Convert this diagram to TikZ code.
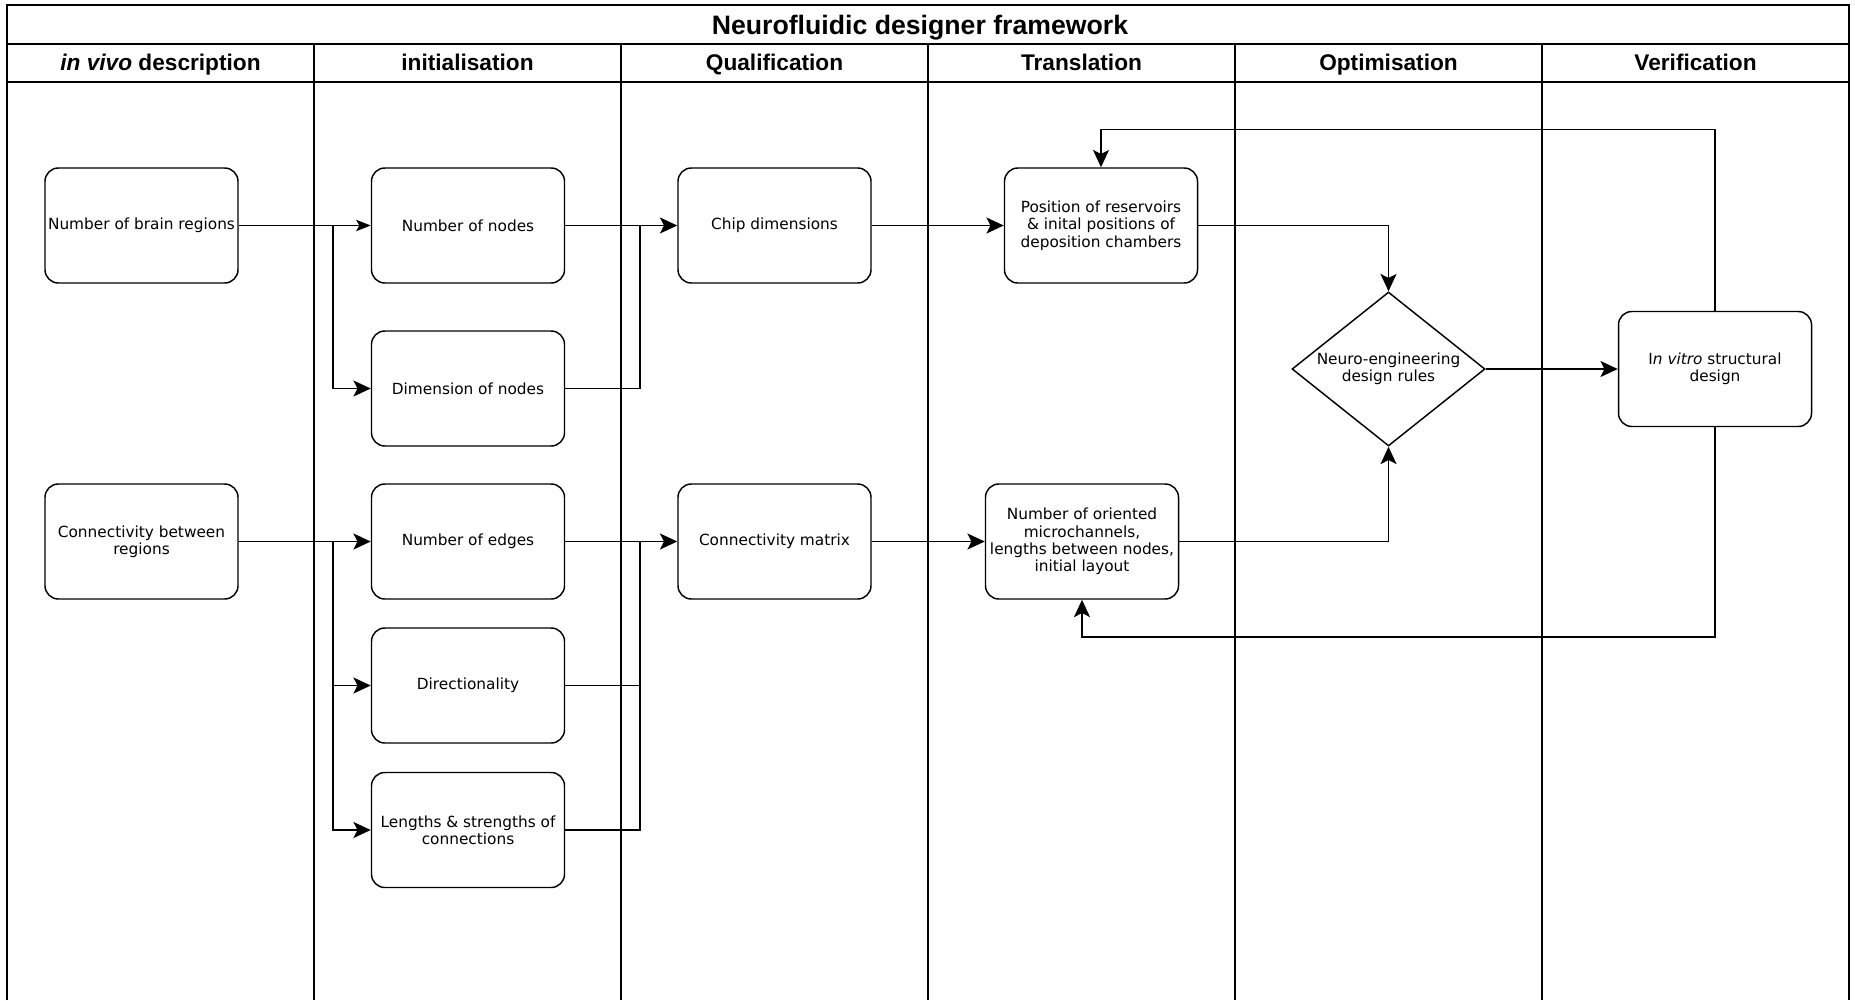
\documentclass[tikz,border=0pt]{standalone}
\usepackage{fontspec}
\setmainfont{DejaVu Sans}
\newfontfamily\hdrfont{Liberation Sans}
\usetikzlibrary{arrows.meta,shapes.geometric}
\begin{document}
\begin{tikzpicture}[x=0.75pt,y=-0.75pt,
  lane/.style={line width=1.4pt},
  box/.style={draw, fill=white, line width=1.1pt, rounded corners=10pt,
    minimum width=144.75pt, minimum height=86.25pt, align=center,
    inner sep=1pt, font=\fontsize{11.5}{13}\selectfont},
  rule/.style={draw, fill=white, diamond, line width=1.1pt,
    minimum width=144.75pt, minimum height=115.5pt, inner sep=0pt},
  rulelabel/.style={align=center, font=\fontsize{11.5}{13}\selectfont},
  hdr/.style={anchor=base, font=\hdrfont\bfseries\fontsize{17}{20}\selectfont},
  ttl/.style={anchor=base, font=\hdrfont\bfseries\fontsize{20}{22}\selectfont},
  conn/.style={line width=1.4pt},
  arr/.style={conn, -{Stealth[length=13pt,width=12pt,inset=3pt]}},
  arrsmall/.style={conn, -{Stealth[length=11pt,width=8.5pt,inset=2.5pt]}}
]
\useasboundingbox (0,0) rectangle (1855,1000);
% frame and lanes
\draw[lane] (7,1000) -- (7,5) -- (1849,5) -- (1849,1000);
\draw[lane] (7,44) -- (1849,44);
\draw[lane] (7,82) -- (1849,82);
\foreach \x in {314,621,928,1235,1542} \draw[lane] (\x,44) -- (\x,1000);
\node[ttl] (title) at (920,34) {Neurofluidic designer framework};
\node[hdr] (h1) at (160.5,70.5) {\itshape in vivo\upshape{} description};
\node[hdr] (h2) at (467.5,70.5) {initialisation};
\node[hdr] (h3) at (774.5,70.5) {Qualification};
\node[hdr] (h4) at (1081.5,70.5) {Translation};
\node[hdr] (h5) at (1388.5,70.5) {Optimisation};
\node[hdr] (h6) at (1695.5,70.5) {Verification};
% nodes
\node[box] (brain) at (141.5,225.5) {Number of brain regions};
\node[box] (nnodes) at (468,225.5) {Number of nodes};
\node[box] (dimn) at (468,388.5) {Dimension of nodes};
\node[box] (cbr) at (141.5,541.5) {Connectivity between\\regions};
\node[box] (nedges) at (468,541.5) {Number of edges};
\node[box] (dirn) at (468,685.5) {Directionality};
\node[box] (lens) at (468,830) {Lengths \& strengths of\\connections};
\node[box] (chip) at (774.5,225.5) {Chip dimensions};
\node[box] (cmat) at (774.5,541.5) {Connectivity matrix};
\node[box] (res) at (1101,225.5) {Position of reservoirs\\\& inital positions of\\deposition chambers};
\node[box] (orient) at (1082,541.5) {Number of oriented\\microchannels,\\lengths between nodes,\\initial layout};
\node[rule, label={[rulelabel]center:Neuro-engineering\\design rules}] (rules) at (1388.5,369) {};
\node[box] (vitro) at (1715,369) {I\textit{n vitro} structural\\design};
% helper coordinates
\coordinate (b1) at (333,225.5);
\coordinate (b2) at (333,541.5);
\coordinate (m1) at (640,225.5);
\coordinate (m2) at (640,541.5);
\coordinate (topline) at (0,129.5);
\coordinate (botline) at (0,637);
% connectors
\draw[arrsmall] (brain.east) -- (nnodes.west);
\draw[arr] (b1) |- (dimn.west);
\draw[arr] (cbr.east) -- (nedges.west);
\draw[arr] (b2) |- (dirn.west);
\draw[arr] (b2) |- (lens.west);
\draw[arr] (nnodes.east) -- (chip.west);
\draw[conn] (dimn.east) -| (m1);
\draw[arr] (nedges.east) -- (cmat.west);
\draw[conn] (dirn.east) -| (m2);
\draw[conn] (lens.east) -| (m2);
\draw[arr] (chip.east) -- (res.west);
\draw[arr] (cmat.east) -- (orient.west);
\draw[arr] (res.east) -| (rules.north);
\draw[arr] (orient.east) -| (rules.south);
\draw[arr] (rules.east) -- (vitro.west);
\draw[arr] (vitro.north) -- (vitro.north |- topline) -| (res.north);
\draw[arr] (vitro.south) -- (vitro.south |- botline) -| (orient.south);
\end{tikzpicture}
\end{document}
